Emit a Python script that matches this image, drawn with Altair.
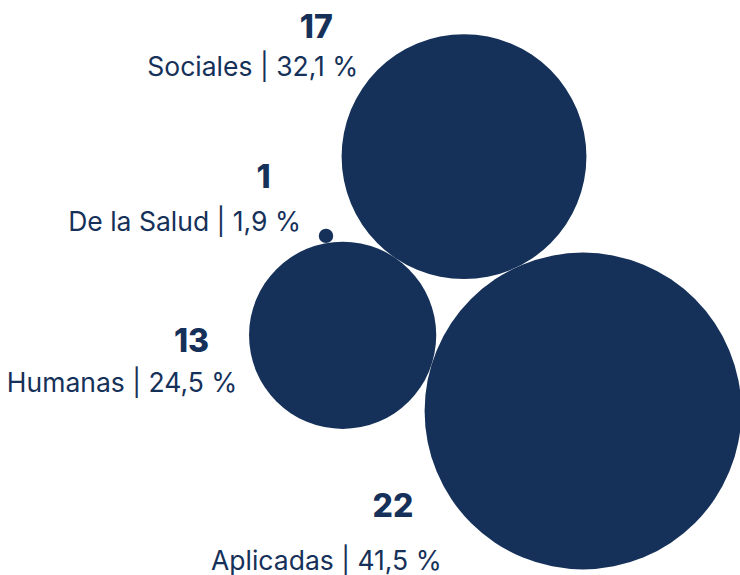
import math
import altair as alt
import pandas as pd

# ---- data ----
categories = ["Sociales", "De la Salud", "Humanas", "Aplicadas"]
counts = [17, 1, 13, 22]

# ---- layout parameters (px) ----
W, H = 740, 575
K = 7.2                      # px per unit of radius (radius proportional to count)
anchor_px = (583, 411)       # centre of the largest circle
angle_soc = 115.07           # direction of Sociales from Aplicadas (deg)
angle_sal = 99.5             # direction of De la Salud from Humanas (deg)
label_off = {                # right edge / baseline of the label, relative to centre
    "Sociales": (-105.7, -81.1),
    "De la Salud": (-25.0, -5.3),
    "Humanas": (-105.3, 56.4),
    "Aplicadas": (-141.3, 159.0),
}
number_off = {
    "Sociales": (-131.3, -118.3),
    "De la Salud": (-55.3, -47.7),
    "Humanas": (-133.6, 17.0),
    "Aplicadas": (-169.7, 105.7),
}
COLOR = "#163159"

# ---- simple tangent packing (units, y up) ----
r = dict(zip(categories, counts))
pos = {"Aplicadas": (0.0, 0.0)}
a = math.radians(angle_soc)
d = r["Aplicadas"] + r["Sociales"]
pos["Sociales"] = (d * math.cos(a), d * math.sin(a))
# Humanas tangent to both
dA = r["Aplicadas"] + r["Humanas"]
dS = r["Sociales"] + r["Humanas"]
cosb = (dA ** 2 + d ** 2 - dS ** 2) / (2 * dA * d)
b = a + math.acos(cosb)
pos["Humanas"] = (dA * math.cos(b), dA * math.sin(b))
# De la Salud tangent to Humanas
c = math.radians(angle_sal)
dH = r["Humanas"] + r["De la Salud"]
hx, hy = pos["Humanas"]
pos["De la Salud"] = (hx + dH * math.cos(c), hy + dH * math.sin(c))

total = sum(counts)
rows = []
for cat, n in zip(categories, counts):
    x, y = pos[cat]
    lo = label_off[cat]
    no = number_off[cat]
    pct = f"{n / total * 100:.1f}".replace(".", ",")
    rows.append({
        "cat": cat, "n": n, "x": x, "y": y,
        "label": f"{cat} | {pct} %",
        "num": str(n),
        "lx": x + lo[0] / K, "ly": y - lo[1] / K,
        "nx": x + no[0] / K, "ny": y - no[1] / K,
    })
df = pd.DataFrame(rows)

xmin = -anchor_px[0] / K
xmax = (W - anchor_px[0]) / K
ymax = anchor_px[1] / K
ymin = ymax - H / K
xs = alt.Scale(domain=[xmin, xmax], nice=False, zero=False)
ys = alt.Scale(domain=[ymin, ymax], nice=False, zero=False)

base = alt.Chart(df)
circles = base.mark_circle(opacity=1, color=COLOR, strokeWidth=0).encode(
    x=alt.X("x:Q", scale=xs, axis=None),
    y=alt.Y("y:Q", scale=ys, axis=None),
    size=alt.Size("n:Q", scale=alt.Scale(type="pow", exponent=2, domain=[0, 22],
                                         range=[0, (2 * 22 * K) ** 2]), legend=None),
)
labels = base.mark_text(align="right", baseline="alphabetic", font="Inter",
                        fontSize=26.5, color=COLOR).encode(
    x=alt.X("lx:Q", scale=xs, axis=None),
    y=alt.Y("ly:Q", scale=ys, axis=None),
    text="label:N",
)
numbers = base.mark_text(align="right", baseline="alphabetic", font="Inter",
                         fontSize=32, fontWeight=800, color=COLOR).encode(
    x=alt.X("nx:Q", scale=xs, axis=None),
    y=alt.Y("ny:Q", scale=ys, axis=None),
    text="num:N",
)

chart = alt.layer(circles, labels, numbers).properties(
    width=W, height=H, padding=0, autosize="none",
    background="white",
).configure_view(stroke=None)

chart.save("out.html", embed_options={"renderer": "svg", "actions": False})
